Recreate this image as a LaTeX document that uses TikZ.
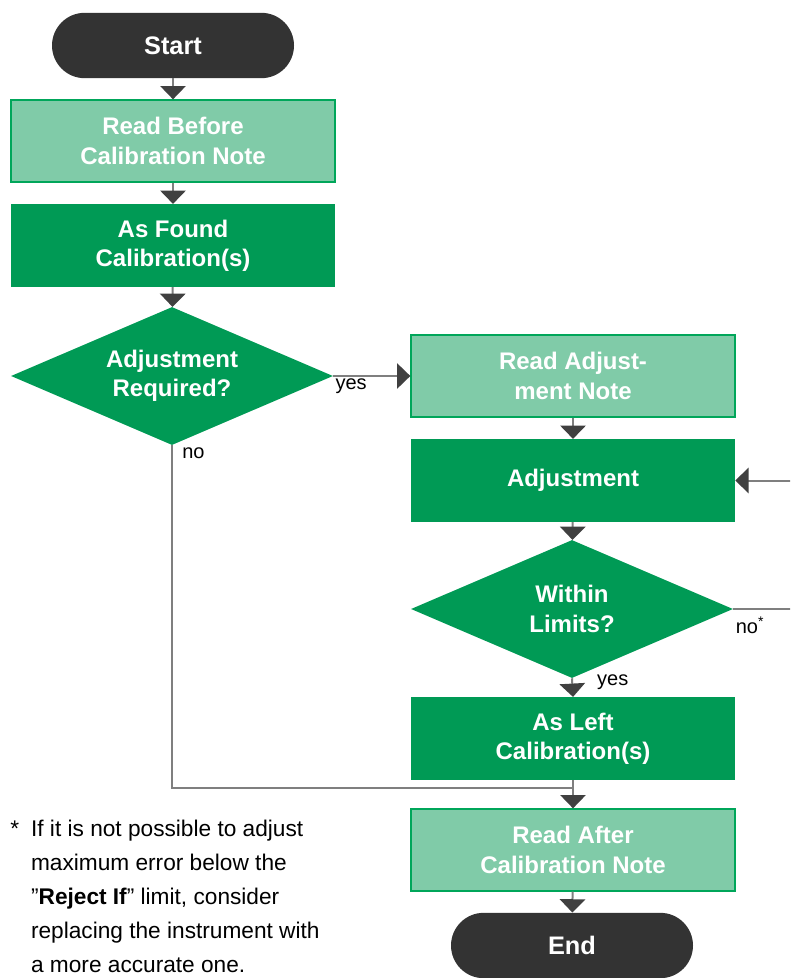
\documentclass[tikz,border=0pt]{standalone}
\usepackage{fontspec}
\setmainfont{Liberation Sans}
\usetikzlibrary{shapes.geometric,arrows.meta}
\definecolor{termgray}{HTML}{333333}
\definecolor{palegreen}{HTML}{80CBA8}
\definecolor{deepgreen}{HTML}{009A55}
\definecolor{edgegreen}{HTML}{00A65A}
\definecolor{linegray}{HTML}{7F7F7F}
\definecolor{tipgray}{HTML}{404040}
\tikzset{
	boxfont/.style={text=white,font=\bfseries\fontsize{18}{22}\selectfont,align=center},
	terminal/.style={boxfont,fill=termgray,rounded corners=24.5pt,minimum width=181.5pt,minimum height=49pt,font=\bfseries\fontsize{19}{22}\selectfont},
	notebox/.style={boxfont,fill=palegreen,draw=edgegreen,line width=1pt,minimum width=243pt,minimum height=61.5pt},
	workbox/.style={boxfont,fill=deepgreen,minimum width=243pt,minimum height=62pt},
	decision/.style={boxfont,diamond,fill=deepgreen,aspect=2.33,minimum width=241.5pt,minimum height=103.5pt,inner sep=0pt},
	arr/.style={draw=linegray,line width=1.5pt,-{Triangle[width=19pt,length=10pt,color=tipgray]}},
	wire/.style={draw=linegray,line width=1.5pt},
	lbl/.style={font=\fontsize{15}{17}\selectfont,inner sep=1pt}
}
\begin{document}
\begin{tikzpicture}[x=0.75pt,y=-0.75pt]
				\clip (0,0) rectangle (790,978);
				\node[terminal] (start) at (173,45.5) {Start};
				\node[notebox] (before) at (173,141) {Read Before\\Calibration Note};
				\node[workbox] (found) at (173,245.5) {As Found\\Calibration(s)};
				\node[decision] (adjreq) at (172,376) {Adjustment\\Required?};
				\node[notebox] (readadj) at (573,376) {Read Adjust-\\ment Note};
				\node[workbox] (adjust) at (573,480.5) {Adjustment};
				\node[decision] (within) at (572,609) {Within\\Limits?};
				\node[workbox] (asleft) at (573,738.5) {As Left\\Calibration(s)};
				\node[notebox] (after) at (573,850) {Read After\\Calibration Note};
				\node[terminal] (finish) at (572,945.5) {End};
				\node[anchor=north west,inner sep=0pt,font=\fontsize{17}{25.5}\selectfont] (note) at (10,812) {%
					\begin{tabular}{@{}l@{\hspace{9pt}}l@{}}
						* & If it is not possible to adjust\\
						& maximum error below the\\
						& ''\textbf{Reject If}'' limit, consider\\
						& replacing the instrument with\\
						& a more accurate one.
					\end{tabular}};
				\coordinate (merge) at (573,788);
				\coordinate (loopturn) at (800,609);
				\draw[arr] (start) -- (before);
				\draw[arr] (before) -- (found);
				\draw[arr] (found) -- (adjreq);
				\draw[arr] (adjreq.east) -- (readadj.west) node[lbl,at start,below right] {yes};
				\draw[arr] (readadj) -- (adjust);
				\draw[arr] (adjust) -- (within);
				\draw[arr] (within.south) -- (asleft.north) node[lbl,pos=0.2,right=17pt] {yes};
				\draw[arr] (within.east) -- (loopturn) |- (adjust.east);
				\node[lbl,anchor=north west] (nostar) at ([shift={(1,6)}]within.east) {no\textsuperscript{*}};
				\draw[wire] (adjreq.south) |- (merge) node[lbl,at start,below right,xshift=6pt] {no};
				\draw[arr] (asleft) -- (after);
				\draw[arr] (after) -- (finish);
\end{tikzpicture}
\end{document}
